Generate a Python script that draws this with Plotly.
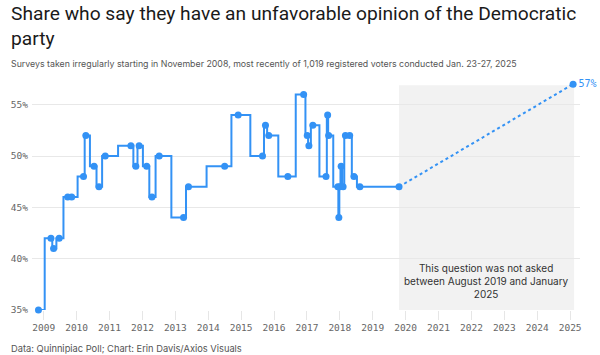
import plotly.graph_objects as go

# Survey dates (decimal years) and share with unfavorable opinion (%)
dates = [2008.84, 2009.22, 2009.30, 2009.47, 2009.73, 2009.85, 2010.21, 2010.28,
         2010.53, 2010.68, 2010.87, 2011.65, 2011.80, 2011.90, 2012.13, 2012.29,
         2012.51, 2013.25, 2013.40, 2014.50, 2014.91, 2015.65, 2015.74, 2015.84,
         2016.42, 2016.90, 2017.01, 2017.06, 2017.18, 2017.58, 2017.63, 2017.66,
         2017.94, 2017.97, 2018.00, 2018.04, 2018.10, 2018.17, 2018.30, 2018.43,
         2018.61, 2019.80]
values = [35, 42, 41, 42, 46, 46, 48, 52,
          49, 47, 50, 51, 49, 51, 49, 46,
          50, 44, 47, 49, 54, 50, 53, 52,
          48, 56, 52, 51, 53, 48, 54, 52,
          47, 44, 47, 49, 47, 52, 52, 48,
          47, 47]
latest_date = 2025.09
latest_value = 57
gap_end = 2025.12
year_ticks = list(range(2009, 2026))
y_ticks = [35, 40, 45, 50, 55]

BLUE = "#3392f5"
MONO = "DejaVu Sans Mono"
SANS = "Inter"
TITLE_FONT = "Roboto"

fig = go.Figure()

fig.add_shape(type="rect", xref="x", yref="y", x0=dates[-1], x1=gap_end,
              y0=35, y1=56.9, fillcolor="#f2f2f2", line_width=0, layer="below")

fig.add_trace(go.Scatter(
    x=dates, y=values, mode="lines+markers", line=dict(color=BLUE, width=2, shape="hvh"),
    marker=dict(color=BLUE, size=7), cliponaxis=False, hoverinfo="skip", showlegend=False))

fig.add_trace(go.Scatter(
    x=[dates[-1], latest_date], y=[values[-1], latest_value], mode="lines",
    line=dict(color=BLUE, width=2, dash="dot"), hoverinfo="skip", showlegend=False,
    cliponaxis=False))

fig.add_trace(go.Scatter(
    x=[latest_date], y=[latest_value], mode="markers+text", text=[f"{latest_value}%"],
    textposition="middle right", textfont=dict(family=MONO, size=10, color=BLUE),
    marker=dict(color=BLUE, size=7), cliponaxis=False, hoverinfo="skip", showlegend=False))

fig.add_annotation(x=(dates[-1] + gap_end) / 2, y=37.85, xref="x", yref="y",
                   text="This question was not asked<br>between August 2019 and January<br>2025",
                   showarrow=False, font=dict(family=SANS, size=10, color="#333333"),
                   align="center")

fig.add_annotation(x=0, y=1, xref="paper", yref="paper", xanchor="left", yanchor="top",
                   xshift=-23, yshift=79,
                   text="Share who say they have an unfavorable opinion of the Democratic<br>party",
                   showarrow=False, align="left",
                   font=dict(family=TITLE_FONT, size=19.2, color="#1a1a1a"))

fig.add_annotation(x=0, y=1, xref="paper", yref="paper", xanchor="left", yanchor="top",
                   xshift=-23, yshift=23,
                   text="Surveys taken irregularly starting in November 2008, most recently of 1,019 registered voters conducted Jan. 23-27, 2025",
                   showarrow=False, align="left",
                   font=dict(family=SANS, size=8.8, color="#555555"))

fig.add_annotation(x=0, y=0, xref="paper", yref="paper", xanchor="left", yanchor="top",
                   xshift=-23, yshift=-31,
                   text="Data: Quinnipiac Poll; Chart: Erin Davis/Axios Visuals",
                   showarrow=False, align="left",
                   font=dict(family=SANS, size=9.3, color="#555555"))

fig.update_layout(
    width=600, height=355, margin=dict(l=32, r=20, t=79, b=45),
    paper_bgcolor="white", plot_bgcolor="white", showlegend=False,
    xaxis=dict(range=[2008.644, 2025.30], tickvals=year_ticks, automargin=False,
               ticktext=[str(y) for y in year_ticks], showgrid=False, zeroline=False,
               ticks="outside", ticklen=9, tickcolor="#e6e6e6", showline=False,
               tickfont=dict(family=MONO, size=9.5, color="#666666")),
    yaxis=dict(range=[35, 57.5], tickvals=y_ticks, ticktext=[f"{v}%" for v in y_ticks],
               showgrid=True, gridcolor="#e8e8e8", gridwidth=1, zeroline=False,
               ticks="", ticklabelstandoff=3, automargin=False,
               tickfont=dict(family=MONO, size=9.5, color="#666666")),
)

fig.write_html("out.html", config={"displayModeBar": False},
               post_script="document.body.style.margin='0';")
